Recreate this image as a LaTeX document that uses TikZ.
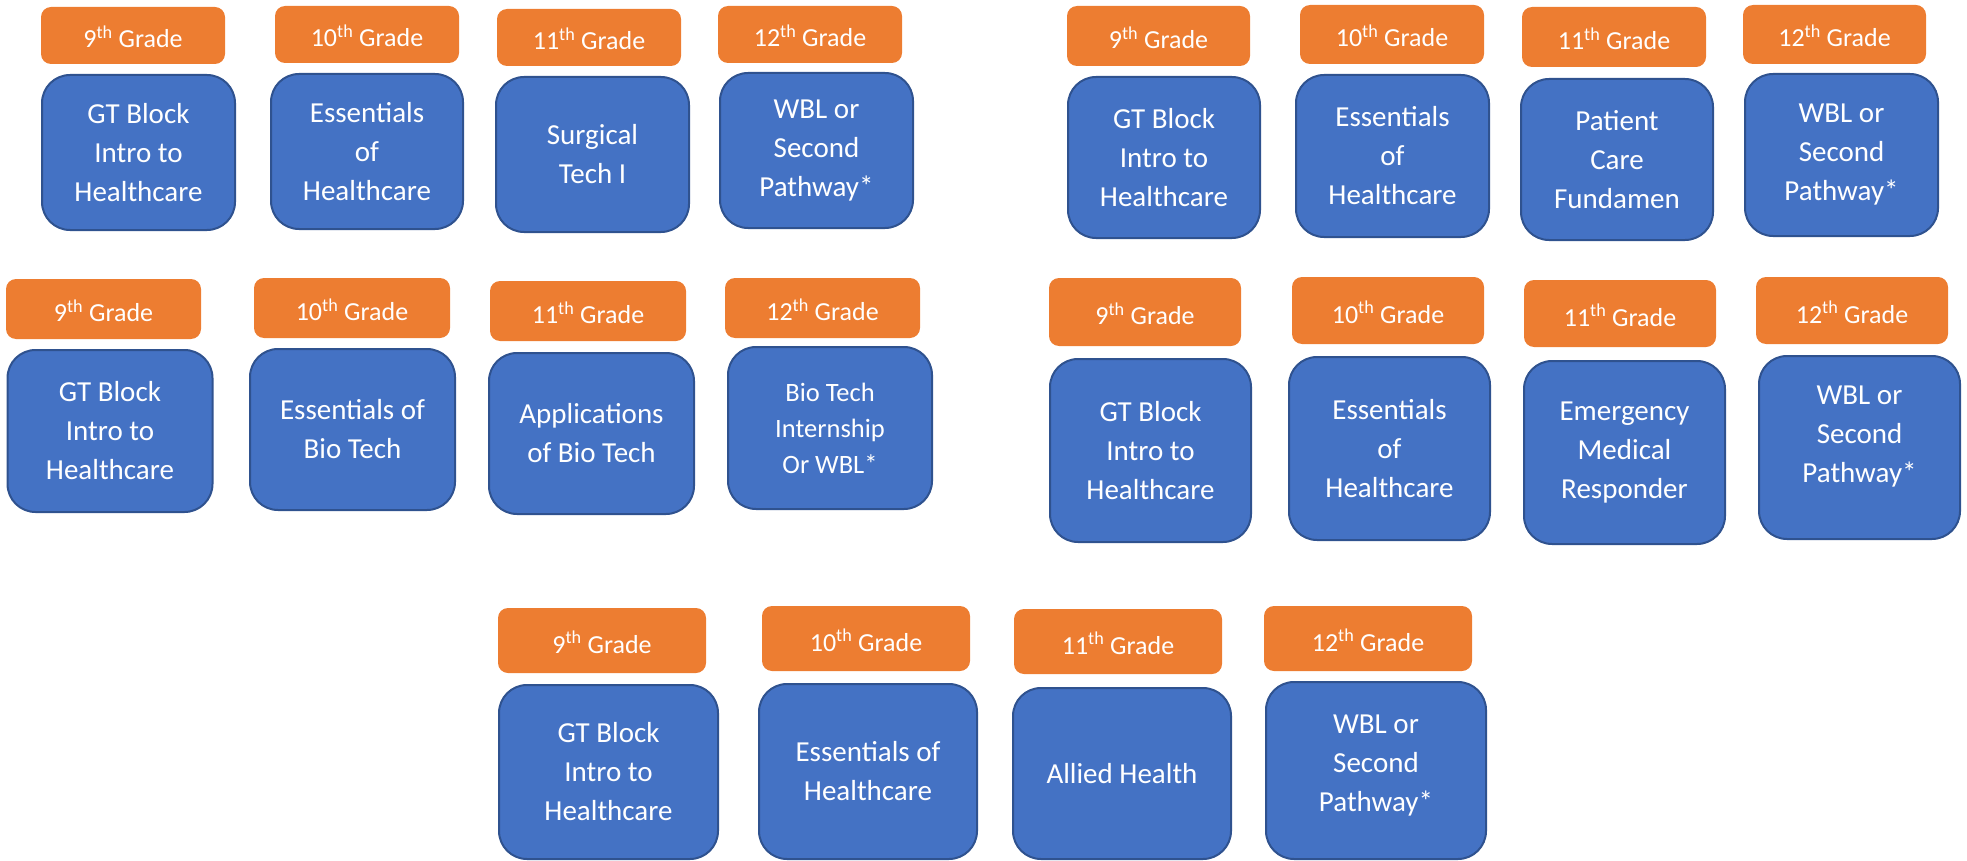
\documentclass[tikz,border=0pt]{standalone}
\usepackage{fontspec}
\setmainfont{Carlito}
\definecolor{orng}{HTML}{ED7D31}
\definecolor{blu}{HTML}{4472C4}
\definecolor{bdr}{HTML}{2F528F}
\newcommand\gradefont{\fontsize{26}{31}\selectfont}
\newcommand\coursefont{\fontsize{29}{39}\selectfont}
\newcommand\coursesmall{\fontsize{26.5}{36}\selectfont}
\tikzset{
  gradebox/.style={fill=orng, rounded corners=10pt, text=white, font=\gradefont, inner sep=0pt, text height=25pt, text depth=0pt},
  coursebox/.style={fill=blu, draw=bdr, line width=2pt, rounded corners=28pt, text=white, font=\coursefont, align=center, inner sep=0pt},
  coursetext/.style={text=white, font=\coursefont, align=center, inner sep=0pt},
}
\begin{document}
\begin{tikzpicture}[x=1pt,y=-1pt]
\useasboundingbox (0,0) rectangle (1967,861);
% ---------- Group 1 (top left)
\node[gradebox, minimum width=184pt, minimum height=57pt] (a1) at (133,35.5) {9\textsuperscript{th} Grade};
\node[coursebox, minimum width=193pt, minimum height=155pt] (ab1) at (138.5,152.5) {GT Block\\Intro to\\Healthcare};
\node[gradebox, minimum width=184pt, minimum height=57pt] (a2) at (367,34.5) {10\textsuperscript{th} Grade};
\node[coursebox, minimum width=192pt, minimum height=155pt] (ab2) at (367,151.5) {Essentials\\of\\Healthcare};
\node[gradebox, minimum width=184pt, minimum height=57pt] (a3) at (589,37.5) {11\textsuperscript{th} Grade};
\node[coursebox, minimum width=193pt, minimum height=155pt] (ab3) at (592.5,154.5) {Surgical\\Tech I};
\node[gradebox, minimum width=184pt, minimum height=57pt] (a4) at (810,34.5) {12\textsuperscript{th} Grade};
\node[coursebox, minimum width=193pt, minimum height=155pt] (ab4) at (816.5,150.5) {WBL or\\Second\\Pathway*};
% ---------- Group 2 (top right)
\node[gradebox, minimum width=183pt, minimum height=60pt] (b1) at (1158.5,36) {9\textsuperscript{th} Grade};
\node[coursebox, minimum width=192pt, minimum height=161pt] (bb1) at (1164,157.5) {GT Block\\Intro to\\Healthcare};
\node[gradebox, minimum width=184pt, minimum height=59pt] (b2) at (1392,34.5) {10\textsuperscript{th} Grade};
\node[coursebox, minimum width=193pt, minimum height=162pt] (bb2) at (1392.5,156) {Essentials\\of\\Healthcare};
\node[gradebox, minimum width=184pt, minimum height=60pt] (b3) at (1614,37) {11\textsuperscript{th} Grade};
\node[coursebox, minimum width=192pt, minimum height=161pt] (bb3) at (1617,159.5) {Patient\\Care\\Fundamen};
\node[gradebox, minimum width=183pt, minimum height=59pt] (b4) at (1834.5,34.5) {12\textsuperscript{th} Grade};
\node[coursebox, minimum width=193pt, minimum height=162pt] (bb4) at (1841.5,155) {WBL or\\Second\\Pathway*};
% ---------- Group 3 (middle left)
\node[gradebox, minimum width=195pt, minimum height=60pt] (c1) at (103.5,309) {9\textsuperscript{th} Grade};
\node[coursebox, minimum width=205pt, minimum height=162pt] (cb1) at (110,431) {GT Block\\Intro to\\Healthcare};
\node[gradebox, minimum width=196pt, minimum height=60pt] (c2) at (352,308) {10\textsuperscript{th} Grade};
\node[coursebox, minimum width=205pt, minimum height=161pt] (cb2) at (352.5,429.5) {Essentials of\\Bio Tech};
\node[gradebox, minimum width=196pt, minimum height=60pt] (c3) at (588,311) {11\textsuperscript{th} Grade};
\node[coursebox, minimum width=205pt, minimum height=161pt] (cb3) at (591.5,433.5) {Applications\\of Bio Tech};
\node[gradebox, minimum width=195pt, minimum height=60pt] (c4) at (822.5,308) {12\textsuperscript{th} Grade};
\node[coursebox, font=\coursesmall, minimum width=204pt, minimum height=162pt] (cb4) at (830,428) {Bio Tech\\Internship\\Or WBL*};
% ---------- Group 4 (middle right)
\node[gradebox, minimum width=192pt, minimum height=68pt] (d1) at (1145,312) {9\textsuperscript{th} Grade};
\node[coursebox, minimum width=201pt, minimum height=183pt] (db1) at (1150.5,450.5) {GT Block\\Intro to\\Healthcare};
\node[gradebox, minimum width=192pt, minimum height=67pt] (d2) at (1388,310.5) {10\textsuperscript{th} Grade};
\node[coursebox, minimum width=201pt, minimum height=183pt] (db2) at (1389.5,448.5) {Essentials\\of\\Healthcare};
\node[gradebox, minimum width=192pt, minimum height=67pt] (d3) at (1620,313.5) {11\textsuperscript{th} Grade};
\node[coursebox, minimum width=201pt, minimum height=183pt] (db3) at (1624.5,452.5) {Emergency\\Medical\\Responder};
\node[gradebox, minimum width=192pt, minimum height=67pt] (d4) at (1852,310.5) {12\textsuperscript{th} Grade};
\node[coursebox, minimum width=201pt, minimum height=183pt] (db4) at (1859.5,447.5) {};
\node[coursetext] (db4t) at ([yshift=11pt]db4.center) {WBL or\\Second\\Pathway*};
% ---------- Group 5 (bottom)
\node[gradebox, minimum width=208pt, minimum height=65pt] (e1) at (602,640.5) {9\textsuperscript{th} Grade};
\node[coursebox, minimum width=219pt, minimum height=174pt] (eb1) at (608.5,772) {GT Block\\Intro to\\Healthcare};
\node[gradebox, minimum width=208pt, minimum height=65pt] (e2) at (866,638.5) {10\textsuperscript{th} Grade};
\node[coursebox, minimum width=218pt, minimum height=175pt] (eb2) at (868,771.5) {Essentials of\\Healthcare};
\node[gradebox, minimum width=208pt, minimum height=65pt] (e3) at (1118,641.5) {11\textsuperscript{th} Grade};
\node[coursebox, minimum width=218pt, minimum height=171pt] (eb3) at (1122,773.5) {Allied Health};
\node[gradebox, minimum width=208pt, minimum height=65pt] (e4) at (1368,638.5) {12\textsuperscript{th} Grade};
\node[coursebox, minimum width=220pt, minimum height=177pt] (eb4) at (1376,770.5) {};
\node[coursetext] (eb4t) at ([yshift=5pt]eb4.center) {WBL or\\Second\\Pathway*};
\end{tikzpicture}
\end{document}
